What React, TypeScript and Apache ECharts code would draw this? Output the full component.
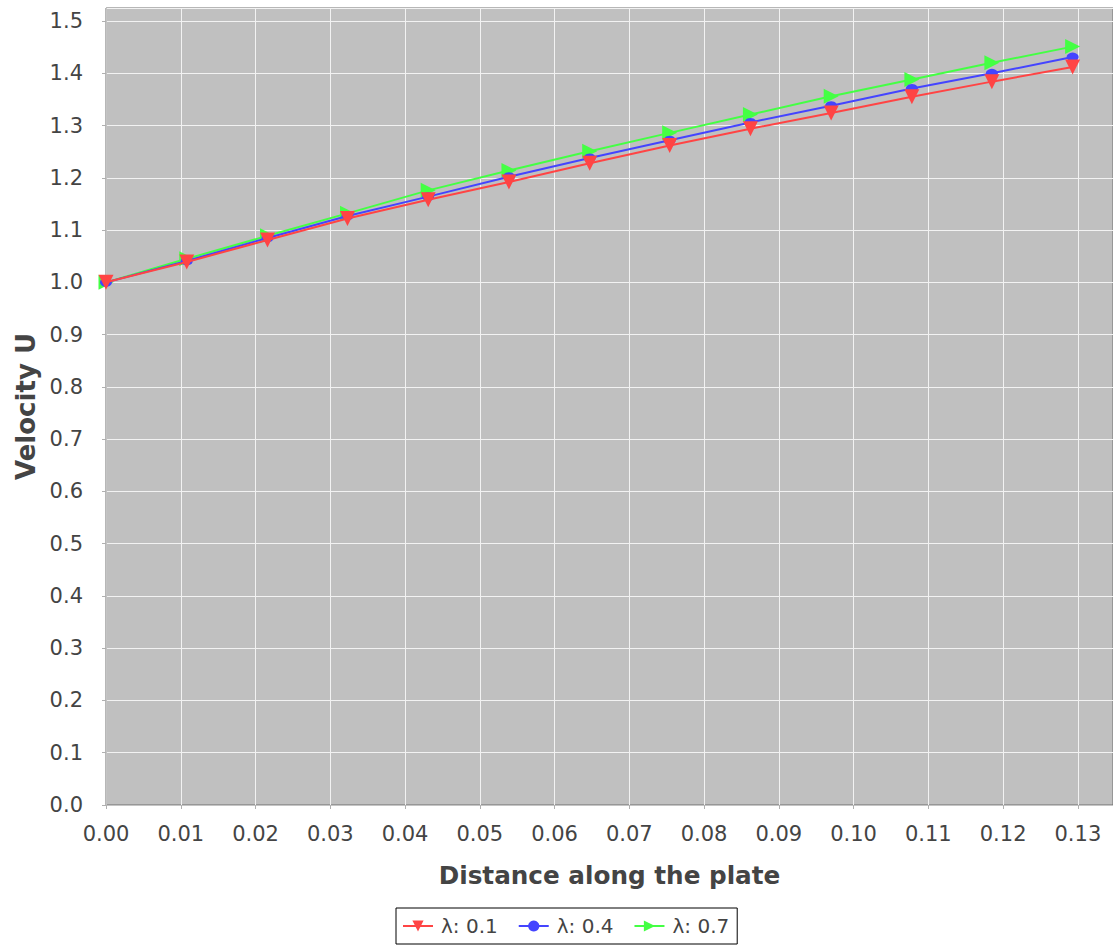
import React, { useEffect, useRef } from "react";
import * as echarts from "echarts";

const xValues = [0, 0.0108, 0.0216, 0.0323, 0.0431, 0.0539, 0.0647, 0.0754, 0.0862, 0.097, 0.1078, 0.1185, 0.1293];
const lambda01 = [1.0, 1.039, 1.081, 1.122, 1.158, 1.192, 1.228, 1.262, 1.294, 1.324, 1.355, 1.384, 1.412];
const lambda04 = [1.0, 1.041, 1.085, 1.127, 1.164, 1.202, 1.238, 1.272, 1.306, 1.338, 1.371, 1.4, 1.431];
const lambda07 = [1.0, 1.045, 1.089, 1.132, 1.176, 1.214, 1.251, 1.286, 1.321, 1.356, 1.388, 1.42, 1.451];
const seriesNames = ["λ: 0.1", "λ: 0.4", "λ: 0.7"];
const xAxisTitle = "Distance along the plate";
const yAxisTitle = "Velocity U";

const FONT = "DejaVu Sans";

export default function App() {
  const ref = useRef<HTMLDivElement>(null);
  useEffect(() => {
    if (!ref.current) return;
    const chart = echarts.init(ref.current, undefined, { renderer: "svg" });
    const pair = (ys: number[]) => xValues.map((x, i) => [x, ys[i]]);
    chart.setOption({
      animation: false,
      backgroundColor: "#ffffff",
      textStyle: { fontFamily: FONT },
      grid: {
        left: 106,
        top: 8,
        right: 0,
        bottom: 146,
        show: true,
        backgroundColor: "#c0c0c0",
        borderColor: "#6e6e6e",
        borderWidth: 1,
      },
      legend: {
        data: seriesNames,
        left: 396,
        top: 908,
        orient: "horizontal",
        borderColor: "#000000",
        borderWidth: 1,
        padding: [8, 8, 8, 6],
        itemGap: 20,
        itemWidth: 30,
        itemHeight: 14,
        textStyle: { fontFamily: FONT, fontSize: 20, color: "#444444", padding: [0, 0, 0, 3] },
      },
      xAxis: {
        type: "value",
        min: 0,
        max: 0.1347,
        interval: 0.01,
        offset: 8,
        name: xAxisTitle,
        nameLocation: "middle",
        nameGap: 50,
        nameTextStyle: { fontFamily: FONT, fontSize: 24.7, fontWeight: "bold", color: "#444444" },
        axisLine: { show: true, lineStyle: { color: "#c4c4c4", width: 1 } },
        axisTick: { show: true, length: 4, lineStyle: { color: "#b0b0b0" } },
        axisLabel: {
          fontFamily: FONT,
          fontSize: 21,
          color: "#444444",
          margin: 10,
          showMaxLabel: false,
          formatter: (v: number) => v.toFixed(2),
        },
        splitLine: { show: true, lineStyle: { color: "#f2f2f2", width: 1 } },
      },
      yAxis: {
        type: "value",
        min: 0,
        max: 1.5249,
        interval: 0.1,
        offset: 8,
        name: yAxisTitle,
        nameLocation: "middle",
        nameGap: 55,
        nameTextStyle: { fontFamily: FONT, fontSize: 26, fontWeight: "bold", color: "#444444" },
        axisLine: { show: true, lineStyle: { color: "#c4c4c4", width: 1 } },
        axisTick: { show: true, length: 4, lineStyle: { color: "#b0b0b0" } },
        axisLabel: {
          fontFamily: FONT,
          fontSize: 21,
          color: "#444444",
          margin: 15,
          showMaxLabel: false,
          formatter: (v: number) => v.toFixed(1),
        },
        splitLine: { show: true, lineStyle: { color: "#f2f2f2", width: 1 } },
      },
      series: [
        {
          name: seriesNames[0],
          type: "line",
          data: pair(lambda01),
          z: 4,
          color: "#ff4444",
          lineStyle: { width: 2, color: "#ff4444" },
          itemStyle: { color: "#ff4444" },
          symbol: "triangle",
          symbolRotate: 180,
          symbolSize: 15,
        },
        {
          name: seriesNames[1],
          type: "line",
          data: pair(lambda04),
          z: 3,
          color: "#4444ff",
          lineStyle: { width: 2, color: "#4444ff" },
          itemStyle: { color: "#4444ff" },
          symbol: "circle",
          symbolSize: [12, 9],
        },
        {
          name: seriesNames[2],
          type: "line",
          data: pair(lambda07),
          z: 2,
          color: "#44ff44",
          lineStyle: { width: 2, color: "#44ff44" },
          itemStyle: { color: "#44ff44" },
          symbol: "triangle",
          symbolRotate: -90,
          symbolSize: 15,
        },
      ],
    });
    return () => chart.dispose();
  }, []);
  return <div ref={ref} style={{ position: "fixed", left: 0, top: 0, width: 1113, height: 951 }} />;
}
